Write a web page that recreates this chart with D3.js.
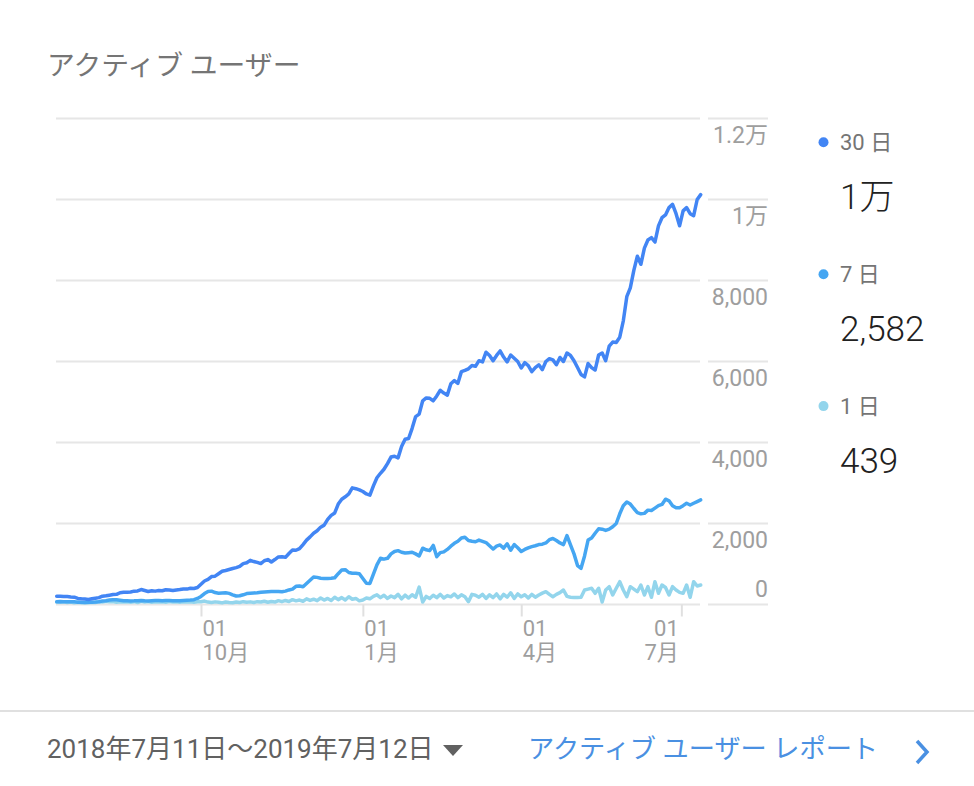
<!DOCTYPE html>
<html>
<head>
<meta charset="utf-8">
<script src="https://cdn.jsdelivr.net/npm/d3@7.9.0/dist/d3.min.js"></script>
<style>
  body { margin: 0; background: #fff; }
  svg { display: block; font-family: Roboto, "Noto Sans CJK JP", sans-serif; }
</style>
</head>
<body>
<svg id="chart" width="974" height="786"></svg>
<script>
// one value every 2 days, starting 2018-07-11
const startDate = "2018-07-11";
const endDate = "2019-07-12";
const dayStep = 2;

const users30 = [
  205,205,200,195,185,180,150,140,135,125,
  140,155,170,205,215,230,245,250,290,300,
  300,310,330,335,370,345,320,340,330,345,
  340,365,360,345,360,370,385,380,400,395,
  420,500,580,620,690,700,760,820,840,865,
  890,910,940,1010,1030,1090,1060,1040,1010,1080,
  1110,1050,1110,1175,1180,1165,1260,1345,1340,1380,
  1480,1590,1670,1760,1820,1910,1960,2100,2200,2260,
  2480,2600,2660,2730,2880,2860,2830,2790,2730,2700,
  2930,3130,3240,3340,3480,3640,3660,3620,3900,4080,
  4100,4350,4640,4700,5030,5100,5090,5030,5150,5290,
  5220,5170,5450,5530,5460,5750,5780,5820,5900,5880,
  6020,5990,6230,6150,6020,6150,6260,6110,5990,6160,
  6080,6000,5840,5970,5900,5750,5850,5920,5800,6000,
  6070,6040,5920,6100,6000,6210,6150,6020,5850,5680,
  5620,5950,5850,5790,6160,6210,6020,6380,6480,6470,
  6600,7000,7600,7820,8250,8600,8400,8800,9000,9060,
  8950,9350,9550,9620,9800,9880,9650,9350,9720,9800,
  9650,9600,10000,10120
];

const users7 = [
  70,72,68,66,70,65,58,55,52,55,
  54,60,70,85,95,110,120,115,105,95,
  92,88,90,95,100,92,88,95,100,96,
  92,100,98,95,92,95,100,105,110,120,
  150,200,270,320,330,295,280,285,290,275,
  240,210,215,240,270,280,285,290,300,310,
  315,320,318,320,315,330,360,380,450,455,
  440,520,600,680,670,648,640,645,650,660,
  760,850,860,790,770,770,760,640,525,520,
  750,980,1140,1120,1140,1250,1310,1330,1290,1270,
  1280,1290,1250,1200,1390,1350,1330,1460,1180,1280,
  1300,1360,1440,1510,1560,1640,1660,1580,1560,1550,
  1590,1560,1530,1450,1370,1440,1470,1390,1500,1340,
  1480,1400,1310,1360,1400,1430,1450,1480,1490,1520,
  1600,1630,1580,1520,1480,1700,1470,1250,960,893,
  1200,1590,1640,1760,1870,1860,1830,1860,1920,2000,
  2240,2440,2530,2480,2370,2270,2240,2250,2330,2320,
  2380,2440,2470,2600,2560,2440,2390,2390,2440,2500,
  2457,2500,2540,2582
];

const users1 = [
  60,55,65,50,60,45,55,40,50,45,
  55,50,70,60,80,65,75,55,70,60,
  65,55,70,50,80,60,75,55,70,60,
  65,55,75,60,70,55,65,60,70,55,
  65,70,85,60,50,65,55,40,60,50,
  45,60,50,70,55,65,50,70,60,80,
  55,75,60,95,70,100,75,120,90,110,
  80,140,100,130,95,160,110,150,100,180,
  120,170,110,190,130,150,90,110,160,140,
  200,240,170,230,150,210,170,250,140,230,
  160,240,180,430,60,200,150,230,170,250,
  160,220,190,260,170,240,190,70,250,230,
  180,250,150,240,170,260,140,250,180,290,
  150,260,190,240,160,250,180,235,280,316,
  250,193,250,292,358,200,178,172,175,180,
  358,380,400,276,400,62,358,440,235,400,
  563,358,193,440,380,316,481,235,440,178,
  563,276,481,420,235,440,358,300,276,481,
  178,563,457,481
];

const yTicks = [0, 2000, 4000, 6000, 8000, 10000, 12000];
const yTickLabels = ["0", "2,000", "4,000", "6,000", "8,000", "1万", "1.2万"];
const xTickDates = ["2018-10-01", "2019-01-01", "2019-04-01", "2019-07-01"];
const xTickDays = ["01", "01", "01", "01"];
const xTickMonths = ["10月", "1月", "4月", "7月"];

const seriesNames = ["30 日", "7 日", "1 日"];
const seriesTotals = ["1万", "2,582", "439"];
const seriesColors = ["#4285f4", "#45a6f2", "#93d5ec"];

const parseDate = d3.timeParse("%Y-%m-%d");
const start = parseDate(startDate);

const svg = d3.select("#chart");

const x = d3.scaleTime()
  .domain([start, parseDate(endDate)])
  .range([56.7, 700.7]);
const y = d3.scaleLinear()
  .domain([0, 12000])
  .range([604.5, 118.5]);

// title
svg.append("text")
  .attr("x", 47).attr("y", 75)
  .attr("font-size", 27.8)
  .attr("fill", "#757575")
  .text("アクティブ ユーザー");

// gridlines, split around the label column
const grid = svg.append("g");
yTicks.forEach(t => {
  grid.append("line")
    .attr("x1", 56).attr("x2", 700)
    .attr("y1", y(t)).attr("y2", y(t))
    .attr("stroke", "#e6e6e6").attr("stroke-width", 2);
  grid.append("line")
    .attr("x1", 708).attr("x2", 768)
    .attr("y1", y(t)).attr("y2", y(t))
    .attr("stroke", "#e6e6e6").attr("stroke-width", 2);
});

// y labels
const yAxis = d3.axisLeft(y)
  .tickValues(yTicks)
  .tickFormat((d, i) => yTickLabels[i])
  .tickSize(0)
  .tickPadding(0);
const yg = svg.append("g").attr("transform", "translate(768,0)").call(yAxis);
yg.select(".domain").remove();
yg.selectAll("text")
  .attr("dy", null)
  .attr("x", 0)
  .attr("y", d => d === 0 ? -8 : 24)
  .attr("font-size", 23)
  .attr("font-family", 'Roboto, "Noto Sans CJK JP", sans-serif')
  .attr("fill", "#9e9e9e");

// x axis; the last label is pulled left so it stays inside the plot
const xAxis = d3.axisBottom(x)
  .tickValues(xTickDates.map(parseDate))
  .tickSize(12)
  .tickFormat("");
const xg = svg.append("g").attr("transform", "translate(0,604.5)").call(xAxis);
xg.select(".domain").remove();
xg.selectAll(".tick line").attr("stroke", "#e0e0e0").attr("stroke-width", 2);
xg.selectAll(".tick text").each(function (d, i) {
  const last = i === xTickDates.length - 1;
  const tx = last ? -3 : 1;
  const t = d3.select(this)
    .attr("dy", null).attr("y", 0)
    .attr("text-anchor", last ? "end" : "start")
    .attr("font-size", 22)
    .attr("font-family", 'Roboto, "Noto Sans CJK JP", sans-serif')
    .attr("fill", "#9e9e9e");
  t.append("tspan").attr("x", tx).attr("y", 31).text(xTickDays[i]);
  t.append("tspan").attr("x", tx).attr("y", 55).text(xTickMonths[i]);
});

// lines
const line = d3.line()
  .x((d, i) => x(d3.timeDay.offset(start, i * dayStep)))
  .y(d => y(d));

[users1, users7, users30].forEach((vals, k) => {
  svg.append("path")
    .datum(vals)
    .attr("d", line)
    .attr("fill", "none")
    .attr("stroke", seriesColors[2 - k])
    .attr("stroke-width", 3.5)
    .attr("stroke-linejoin", "round")
    .attr("stroke-linecap", "round");
});

// legend
const legend = svg.append("g");
seriesNames.forEach((name, i) => {
  const top = 142.3 + i * 131.9;
  legend.append("circle")
    .attr("cx", 823.5).attr("cy", top).attr("r", 5)
    .attr("fill", seriesColors[i]);
  legend.append("text")
    .attr("x", 840).attr("y", top + 8)
    .attr("font-size", 22)
    .attr("fill", "#757575")
    .text(name);
  legend.append("text")
    .attr("x", 840).attr("y", top + 67)
    .attr("font-size", 35)
    .attr("font-weight", 300)
    .attr("fill", "#212121")
    .text(seriesTotals[i]);
});

// footer
svg.append("line")
  .attr("x1", 0).attr("x2", 974)
  .attr("y1", 711).attr("y2", 711)
  .attr("stroke", "#e0e0e0").attr("stroke-width", 2);

svg.append("text")
  .attr("x", 47).attr("y", 758)
  .attr("font-size", 26)
  .attr("fill", "#616161")
  .text("2018年7月11日〜2019年7月12日");

svg.append("path")
  .attr("d", "M443,745 L463,745 L453,756 Z")
  .attr("fill", "#616161");

svg.append("text")
  .attr("x", 528).attr("y", 758)
  .attr("font-size", 26.2)
  .attr("fill", "#4a90e2")
  .text("アクティブ ユーザー レポート");

svg.append("path")
  .attr("d", "M917,741 L927,752 L917,763")
  .attr("fill", "none")
  .attr("stroke", "#4a90e2")
  .attr("stroke-width", 3.5);
</script>
</body>
</html>
